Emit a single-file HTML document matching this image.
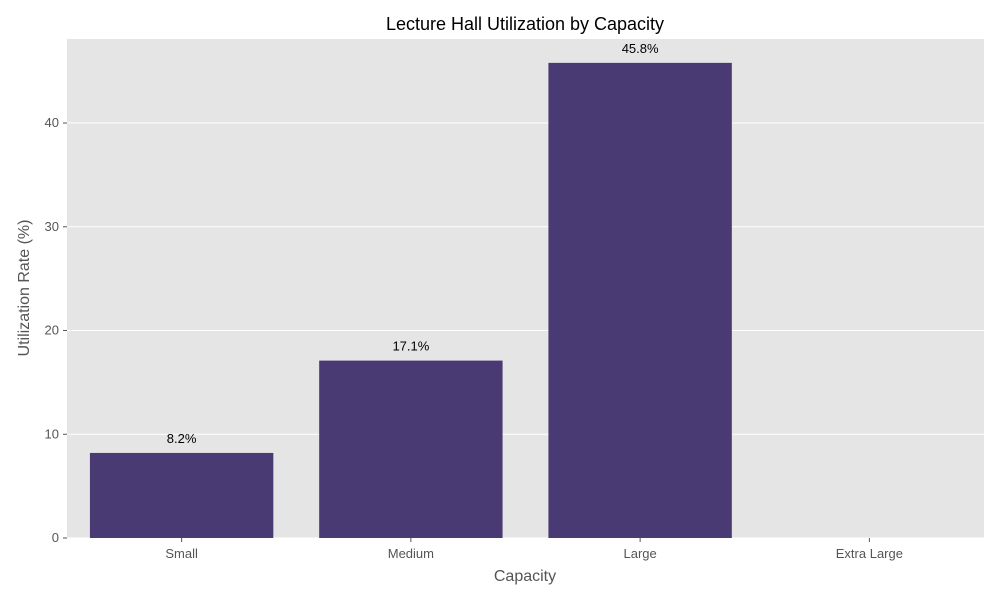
<!DOCTYPE html>
<html><head><meta charset="utf-8"><style>
body{margin:0;background:#fff;}
svg{display:block;font-family:"Liberation Sans","DejaVu Sans",sans-serif;}
</style></head><body>
<svg id="chart" width="1000" height="600">
<rect x="67" y="39" width="917" height="499" fill="#e5e5e5"/>
<g id="grid"></g><g id="bars"></g><g id="ticks"></g>
<text x="525" y="30" text-anchor="middle" font-size="18" fill="#000">Lecture Hall Utilization by Capacity</text>
<text x="525" y="581" text-anchor="middle" font-size="16" fill="#555">Capacity</text>
<text transform="translate(29,288) rotate(-90)" text-anchor="middle" font-size="16" fill="#555">Utilization Rate (%)</text>
</svg>
<script>
const categories=["Small","Medium","Large","Extra Large"];
const values=[8.2,17.1,45.8,0];
const yTicks=[0,10,20,30,40];
const X0=67,X1=984,Y0=538,Y1=39,YMAX=48.1;
const band=(X1-X0)/categories.length;
const xc=i=>X0+band*(i+0.5);
const y=v=>Y0-(v/YMAX)*(Y0-Y1);
const NS="http://www.w3.org/2000/svg";
function mk(tag,attrs,parent,text){const e=document.createElementNS(NS,tag);for(const k in attrs)e.setAttribute(k,attrs[k]);if(text!==undefined)e.textContent=text;document.getElementById(parent).appendChild(e);return e;}
yTicks.forEach(t=>{
 const g=mk("line",{x1:X0,x2:X1,y1:y(t),y2:y(t),stroke:"#fff","stroke-width":1},"grid");
 
 
 const tk=mk("line",{x1:X0-4,x2:X0,y1:y(t),y2:y(t),stroke:"#555"},"ticks");
 
 
 const l=mk("text",{x:X0-8,y:y(t)+4,"text-anchor":"end","font-size":13,fill:"#555"},"ticks",String(t));
 
 
});
categories.forEach((c,i)=>{
 const w=band*0.8,v=values[i];
 const b=mk("rect",{x:xc(i)-w/2,y:y(v),width:w,height:Y0-y(v),fill:"#4a3a73"},"bars");
 
 
 if(v>0){const vl=mk("text",{x:xc(i),y:y(v)-10,"text-anchor":"middle","font-size":13,fill:"#000"},"bars",v.toFixed(1)+"%");
 
 }
 const tk=mk("line",{x1:xc(i),x2:xc(i),y1:Y0,y2:Y0+4,stroke:"#555"},"ticks");
 
 
 const l=mk("text",{x:xc(i),y:Y0+20,"text-anchor":"middle","font-size":13,fill:"#555"},"ticks",c);
 
 
});
</script>
</body></html>
